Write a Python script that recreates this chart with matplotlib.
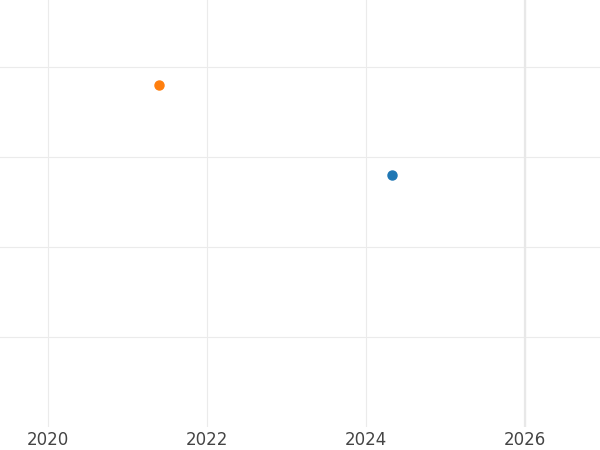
import matplotlib.pyplot as plt

# two single observations
years = [2021.4, 2024.33]
values = [3.8, 2.8]
colors = ['#ff7f0e', '#1f77b4']

x_ticks = [2020, 2022, 2024, 2026]
y_grid = [1, 2, 3, 4]
marker_year = 2026

fig = plt.figure(figsize=(6, 4.5), dpi=100)
ax = fig.add_axes([0, 0.051, 1, 0.949])

ax.axvline(marker_year, color='#e8e8e8', lw=1.6, zorder=1)
for x, y, c in zip(years, values, colors):
    ax.plot(x, y, 'o', color=c, ms=6.5, zorder=3)

ax.set_xlim(2019.396, 2026.943)
ax.set_ylim(0, 4.744)
ax.set_xticks(x_ticks)
ax.set_yticks(y_grid)
ax.set_yticklabels([])
ax.grid(True, color='#ebebeb', lw=0.8, zorder=0)
ax.set_axisbelow(True)
ax.tick_params(length=0, labelsize=12, labelcolor='#444444', pad=3)
for s in ax.spines.values():
    s.set_visible(False)

plt.savefig('out.png', dpi=100)
